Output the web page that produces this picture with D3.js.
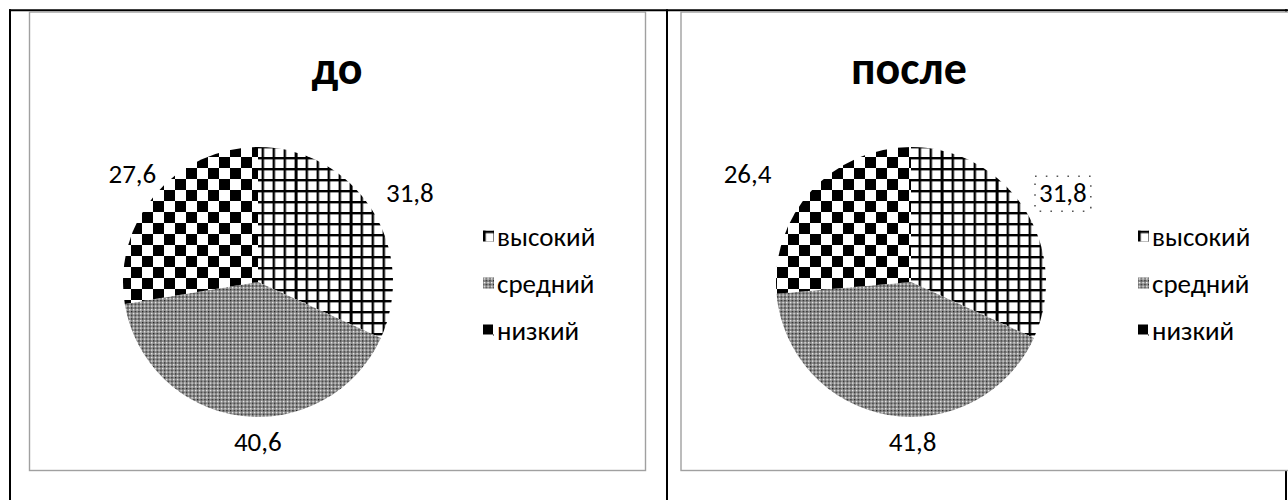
<!DOCTYPE html>
<html><head><meta charset="utf-8">
<script src="https://cdn.jsdelivr.net/npm/d3@7"></script>
<style>body{margin:0;background:#fff}svg{display:block}</style>
</head><body>
<svg id="c" width="1288" height="500"></svg>
<script>
// ---- data ----
const categories = ["высокий", "средний", "низкий"];
const valuesBefore = [31.8, 40.6, 27.6];
const valuesAfter = [31.8, 41.8, 26.4];
const labelsBefore = ["31,8", "40,6", "27,6"];
const labelsAfter = ["31,8", "41,8", "26,4"];
const titles = ["до", "после"];

// ---- layout ----
const FONT = "Carlito, Lato, 'Open Sans', sans-serif";
const charts = [
  {title: titles[0], values: valuesBefore, labels: labelsBefore,
   frame: [29.5, 12, 616, 458.5], cx: 258, cy: 282, r: 135, titleX: 337,
   legendX: 483, nudges: [[10, 2], [22, -8], [3, 1]], selected: -1},
  {title: titles[1], values: valuesAfter, labels: labelsAfter,
   frame: [681, 12, 630, 458.5], cx: 911, cy: 282, r: 135, titleX: 909,
   legendX: 1138, nudges: [[10, 2], [30, -7], [-39, 5]], selected: 0}
];
const legendY = [236, 283, 330];
const patternKinds = ["grid", "dots", "check"];

const svg = d3.select("#c");
const defs = svg.append("defs");

function makePatterns(prefix, ox, oy, lw) {
  // grid
  const g = defs.append("pattern").attr("id", prefix + "grid")
    .attr("patternUnits", "userSpaceOnUse").attr("width", 55).attr("height", 11)
    .attr("x", ox - 1.4).attr("y", oy);
  g.append("rect").attr("width", 55).attr("height", 11).attr("fill", "#fff");
  for (let i = 0; i < 5; i++) {
    g.append("rect").attr("x", i * 11).attr("y", 0).attr("width", i === 0 ? lw + 0.6 : lw)
      .attr("height", 11).attr("fill", "#000");
  }
  g.append("rect").attr("x", 0).attr("y", 0).attr("width", 55).attr("height", lw).attr("fill", "#000");
  // dots (medium)
  const s = 11 / 3;
  const d = defs.append("pattern").attr("id", prefix + "dots")
    .attr("patternUnits", "userSpaceOnUse").attr("width", s).attr("height", s)
    .attr("x", ox).attr("y", oy);
  d.append("rect").attr("width", s).attr("height", s).attr("fill", "#8a8a8a");
  d.append("rect").attr("x", 0).attr("y", 0).attr("width", 1.3).attr("height", 1.3).attr("fill", "#222");
  d.append("rect").attr("x", s / 2).attr("y", s / 2).attr("width", 1.3).attr("height", 1.3).attr("fill", "#fff");
  // checker
  const c = defs.append("pattern").attr("id", prefix + "check")
    .attr("patternUnits", "userSpaceOnUse").attr("width", 22).attr("height", 22)
    .attr("x", ox).attr("y", oy);
  c.append("rect").attr("width", 22).attr("height", 22).attr("fill", "#fff");
  c.append("rect").attr("x", 0).attr("y", 0).attr("width", 11).attr("height", 11).attr("fill", "#000");
  c.append("rect").attr("x", 11).attr("y", 11).attr("width", 11).attr("height", 11).attr("fill", "#000");
}

// table lines
const tbl = svg.append("g").attr("stroke", "#000").attr("stroke-width", 2);
tbl.append("line").attr("x1", 9).attr("y1", 10.3).attr("x2", 1288).attr("y2", 10.3);
tbl.append("line").attr("x1", 10).attr("y1", 9.3).attr("x2", 10).attr("y2", 500);
tbl.append("line").attr("x1", 667).attr("y1", 9.3).attr("x2", 667).attr("y2", 500);
tbl.append("line").attr("x1", 1286).attr("y1", 9.3).attr("x2", 1286).attr("y2", 500);

charts.forEach((ch, ci) => {
  const p = "p" + ci + "_";
  makePatterns(p, ch.cx, ch.cy, 2.4);
  const g = svg.append("g");
  const [fx, fy, fw, fh] = ch.frame;
  g.append("rect").attr("x", fx).attr("y", fy).attr("width", fw).attr("height", fh)
    .attr("fill", "#fff").attr("stroke", "#a0a0a0").attr("stroke-width", 1.4);

  g.append("text").attr("x", ch.titleX).attr("y", 84).attr("text-anchor", "middle")
    .attr("font-family", FONT).attr("font-weight", "bold").attr("font-size", 46)
    .attr("fill", "#000").text(ch.title);

  const pie = d3.pie().sort(null).value(d => d)(ch.values);
  const arc = d3.arc().innerRadius(0).outerRadius(ch.r);
  const labelArc = d3.arc().innerRadius(ch.r * 1.25).outerRadius(ch.r * 1.25);
  const pg = g.append("g").attr("transform", `translate(${ch.cx},${ch.cy})`);
  pg.selectAll("path").data(pie).join("path")
    .attr("d", arc)
    .attr("fill", (d, i) => `url(#${p}${patternKinds[i]})`);

  pie.forEach((d, i) => {
    const [lx, ly] = labelArc.centroid(d);
    const t = pg.append("text")
      .attr("x", lx + ch.nudges[i][0]).attr("y", ly + ch.nudges[i][1])
      .attr("text-anchor", "middle").attr("dominant-baseline", "central")
      .attr("font-family", FONT).attr("font-size", 27).attr("fill", "#000")
      .text(ch.labels[i]);
    if (i === ch.selected) {
      const b = t.node().getBBox();
      pg.insert("rect", "text").attr("x", b.x - 4).attr("y", b.y)
        .attr("width", b.width + 8).attr("height", b.height + 2)
        .attr("fill", "none").attr("stroke", "#555").attr("stroke-width", 1.6)
        .attr("stroke-dasharray", "1.6,9.2");
    }
  });

  // legend
  categories.forEach((cat, i) => {
    const mx = ch.legendX, my = legendY[i] - 5.5;
    const lp = "l" + ci + "_" + i + "_";
    makePatterns(lp, mx + (i === 0 ? 0.9 : -1), my + (i === 0 ? 0 : -1), 2.6);
    g.append("rect").attr("x", mx).attr("y", my).attr("width", 11).attr("height", 11)
      .attr("fill", `url(#${lp}${patternKinds[i]})`);
    g.append("text").attr("x", mx + 14).attr("y", legendY[i])
      .attr("dominant-baseline", "central")
      .attr("font-family", FONT).attr("font-size", 27).attr("fill", "#000").text(cat);
  });
});
</script>
</body></html>
